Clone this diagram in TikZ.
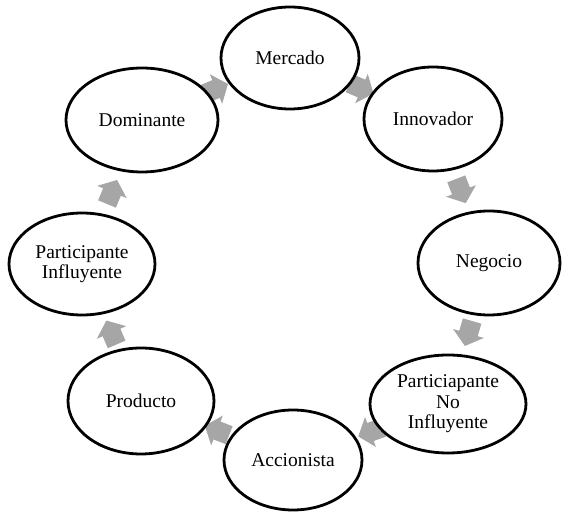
\documentclass[tikz,border=0pt]{standalone}
\usepackage{fontspec}
\setmainfont{Liberation Serif}
\usetikzlibrary{shapes.geometric,calc}
\definecolor{arrowgray}{RGB}{166,166,166}
\pgfdeclarelayer{background}
\pgfsetlayers{background,main}
\newcommand\cycarrow[2]{%
  \pgfmathanglebetweenpoints{\pgfpointanchor{#1}{center}}{\pgfpointanchor{#2}{center}}%
  \let\cycang\pgfmathresult
  \begin{scope}[shift={($(#1)!0.5!(#2)$)}, rotate=\cycang]
    \fill[blockarrow] (-13,-9.6) -- (0,-9.6) -- (0,-16) -- (13,0) -- (0,16) -- (0,9.6) -- (-13,9.6) -- cycle;
  \end{scope}}
\begin{document}
\begin{tikzpicture}[x=1pt,y=1pt,
  cyc/.style={ellipse, draw=black, line width=2.8pt, fill=white, inner sep=0pt,
    align=center, font=\fontsize{19.5}{20.5}\selectfont},
  blockarrow/.style={fill=arrowgray}]
\useasboundingbox (0,0) rectangle (563,514);
\node[cyc, minimum width=138pt, minimum height=102pt] (mercado) at (290,456) {Mercado};
\node[cyc, minimum width=138pt, minimum height=104pt] (innovador) at (433,395) {Innovador};
\node[cyc, minimum width=142pt, minimum height=104pt] (negocio) at (489,251) {Negocio};
\node[cyc, minimum width=156pt, minimum height=98pt] (noinfl) at (448,110) {Particiapante\\No\\Influyente};
\node[cyc, minimum width=138pt, minimum height=100pt] (accionista) at (293,54) {Accionista};
\node[cyc, minimum width=146pt, minimum height=106pt] (producto) at (141,113) {Producto};
\node[cyc, minimum width=146pt, minimum height=102pt] (infl) at (82,250) {Participante\\Influyente};
\node[cyc, minimum width=152pt, minimum height=104pt] (dominante) at (142,394) {Dominante};
\begin{pgfonlayer}{background}
  \cycarrow{dominante}{mercado}
  \cycarrow{mercado}{innovador}
  \cycarrow{innovador}{negocio}
  \cycarrow{negocio}{noinfl}
  \cycarrow{noinfl}{accionista}
  \cycarrow{accionista}{producto}
  \cycarrow{producto}{infl}
  \cycarrow{infl}{dominante}
\end{pgfonlayer}
\end{tikzpicture}
\end{document}
